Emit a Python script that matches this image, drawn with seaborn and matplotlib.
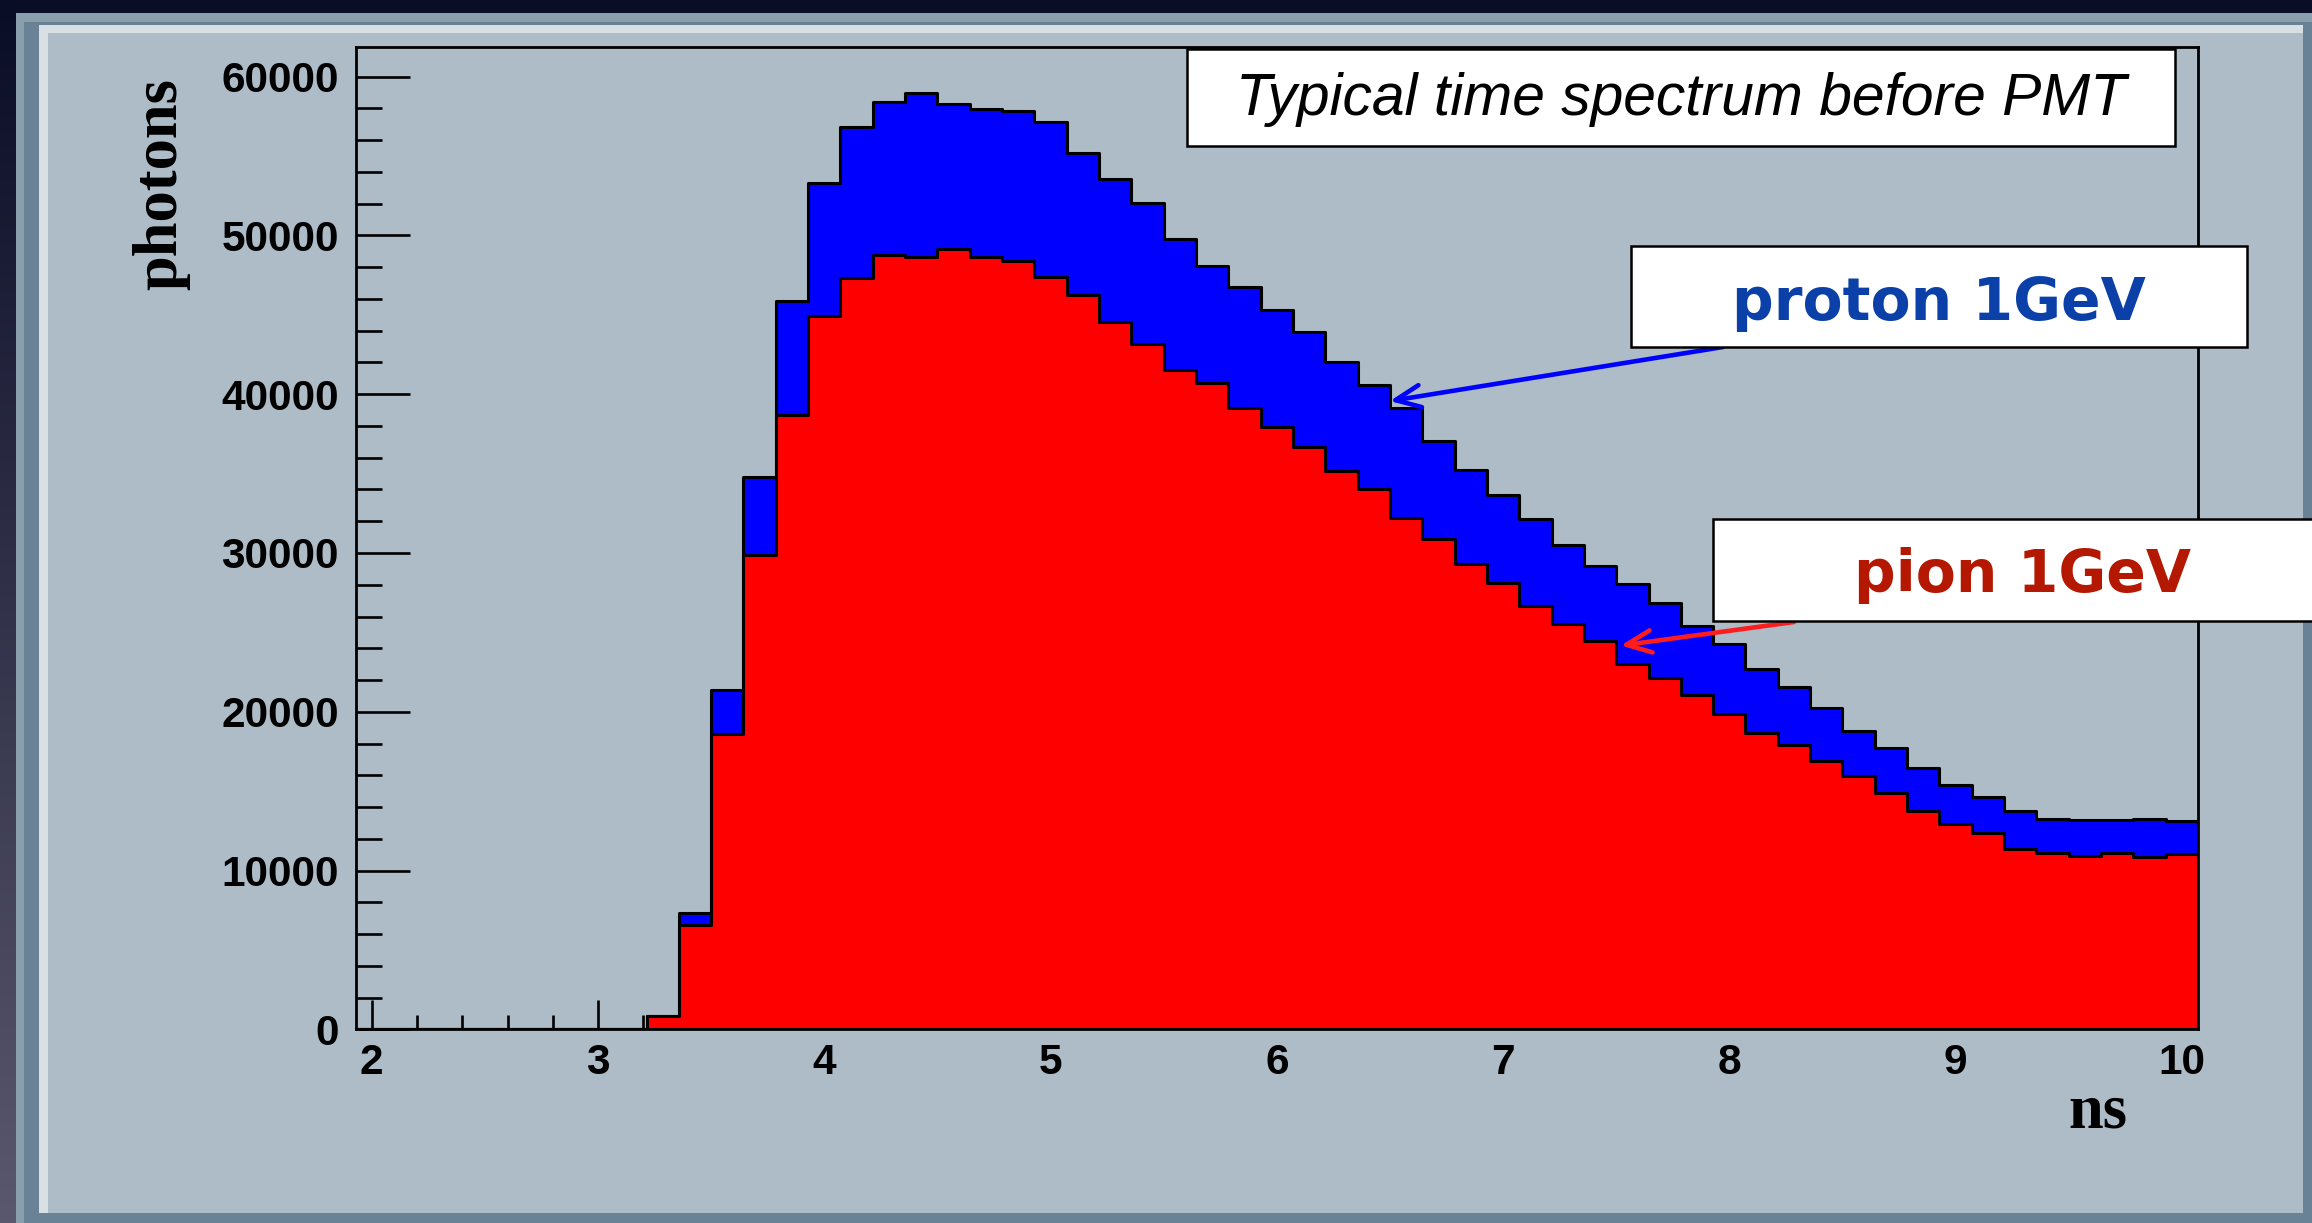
import numpy as np
import pandas as pd
import matplotlib
matplotlib.use("Agg")
import matplotlib.pyplot as plt
import seaborn as sns
from matplotlib.patches import Rectangle
from matplotlib.ticker import FixedLocator

# ---------------- data ----------------
# histogram bins of width 1/7 ns, bin k covers [(k-0.5)/7, (k+0.5)/7], k = 14..70
bin_k = np.arange(14, 71)
proton_counts = [0, 0, 0, 0, 0, 0, 0, 0, 0,
                 850, 7320, 21380, 34800, 45870, 53330, 56820, 58430, 58960, 58290,
                 57970, 57860, 57130, 55220, 53540, 52030, 49760, 48080, 46780, 45310,
                 43940, 42050, 40570, 39150, 37050, 35250, 33670, 32120, 30490, 29170,
                 28050, 26840, 25380, 24250, 22700, 21580, 20230, 18760, 17690, 16430,
                 15390, 14600, 13780, 13220, 13190, 13190, 13240, 13140]
pion_counts = [0, 0, 0, 0, 0, 0, 0, 0, 0,
               850, 6540, 18630, 29860, 38690, 44930, 47300, 48770, 48670, 49150,
               48670, 48420, 47410, 46250, 44570, 43160, 41520, 40720, 39110, 37950,
               36690, 35170, 34010, 32210, 30860, 29310, 28130, 26640, 25510, 24440,
               22980, 22140, 21070, 19830, 18680, 17920, 16870, 15950, 14880, 13760,
               12910, 12350, 11360, 11110, 10940, 11080, 10880, 11030]
x_ticks = [2, 3, 4, 5, 6, 7, 8, 9, 10]
x_tick_labels = ["2", "3", "4", "5", "6", "7", "8", "9", "10"]
y_ticks = [0, 10000, 20000, 30000, 40000, 50000, 60000]
y_tick_labels = ["0", "10000", "20000", "30000", "40000", "50000", "60000"]
title_text = "Typical time spectrum before PMT"
proton_label = "proton 1GeV"
pion_label = "pion 1GeV"
x_label = "ns"
y_label = "photons"
# annotation targets (data coords)
proton_arrow_target = (6.50, 39570)
pion_arrow_target = (7.52, 24170)

centers = bin_k / 7.0
edges = [float(e) for e in np.append(bin_k - 0.5, bin_k[-1] + 0.5) / 7.0]
df = pd.DataFrame({"ns": centers, "proton": proton_counts, "pion": pion_counts})

# ---------------- figure ----------------
W, H, DPI = 2312, 1223, 100
plt.rcParams["font.family"] = ["Liberation Sans", "DejaVu Sans"]
fig = plt.figure(figsize=(W / DPI, H / DPI), dpi=DPI)

# background (pixel coordinates, y downward)
bg = fig.add_axes([0, 0, 1, 1], zorder=0)
bg.set_xlim(0, W)
bg.set_ylim(H, 0)
bg.axis("off")
top_c = np.array([10, 13, 38]) / 255
bot_c = np.array([90, 88, 110]) / 255
t = np.linspace(0, 1, 256)[:, None, None]
grad = (top_c[None, None, :] * (1 - t) + bot_c[None, None, :] * t)
grad = np.repeat(grad, 4, axis=1)
bg.imshow(grad, extent=(0, W, H, 0), aspect="auto", zorder=0)
bg.add_patch(Rectangle((16, 13), W - 16, H - 13, color="#8a9fae", lw=0, zorder=1))
bg.add_patch(Rectangle((24, 22), W - 24, H - 22, color="#6a8295", lw=0, zorder=2))
bg.add_patch(Rectangle((39, 25), 2303 - 39, 1213 - 25, color="#d8e0e3", lw=0, zorder=3))
bg.add_patch(Rectangle((48, 33), 2303 - 48, 1213 - 33, color="#adbcc6", lw=0, zorder=4))

# main axes
ax_left, ax_right, ax_top, ax_bottom = 355.6, 2198.0, 47.0, 1029.3
ax = fig.add_axes([ax_left / W, 1 - ax_bottom / H, (ax_right - ax_left) / W,
                   (ax_bottom - ax_top) / H], zorder=1)
ax.set_facecolor("none")

sns.histplot(data=df, x="ns", weights="proton", bins=edges, element="step",
             fill=True, color="#0000ff", alpha=1, edgecolor="black",
             linewidth=2.2, ax=ax)
sns.histplot(data=df, x="ns", weights="pion", bins=edges, element="step",
             fill=True, color="#ff0000", alpha=1, edgecolor="black",
             linewidth=2.2, ax=ax)

ax.set_xlim(13.5 / 7, 70.5 / 7)
ax.set_ylim(0, 61870)
ax.set_axisbelow(True)

ax.set_xticks(x_ticks, x_tick_labels, fontweight="bold", fontsize=30.5,
              fontfamily="Liberation Sans")
ax.set_yticks(y_ticks, y_tick_labels, fontweight="bold", fontsize=30.5,
              fontfamily="Liberation Sans")
ax.xaxis.set_minor_locator(FixedLocator(np.arange(2.0, 10.01, 0.2)))
ax.yaxis.set_minor_locator(FixedLocator(np.arange(0, 61001, 2000)))
ax.tick_params(axis="both", which="both", direction="in", top=False,
               right=False, width=1.9, color="black")
ax.tick_params(axis="x", which="major", length=21, pad=10)
ax.tick_params(axis="x", which="minor", length=10)
ax.tick_params(axis="y", which="major", length=39, pad=12)
ax.tick_params(axis="y", which="minor", length=19)
for s in ax.spines.values():
    s.set_linewidth(2.0)
    s.set_color("black")

ax.set_xlabel(x_label, fontfamily="Liberation Serif", fontweight="bold",
              fontsize=45, ha="right", va="baseline")
ax.xaxis.set_label_coords((2127 - ax_left) / (ax_right - ax_left),
                          -(1128 - ax_bottom) / (ax_bottom - ax_top))
ax.set_ylabel(y_label, fontfamily="Liberation Serif", fontweight="bold",
              fontsize=45, rotation=90, rotation_mode="anchor",
              ha="right", va="center")
ax.yaxis.set_label_coords((161 - ax_left) / (ax_right - ax_left),
                          (ax_bottom - 78) / (ax_bottom - ax_top))

# overlay for text boxes
ov = fig.add_axes([0, 0, 1, 1], zorder=3)
ov.set_xlim(0, W)
ov.set_ylim(H, 0)
ov.axis("off")
ov.set_facecolor("none")

# arrows (drawn under boxes)
ax.annotate("", xy=proton_arrow_target, xycoords="data",
            xytext=(1723, 347), textcoords=ov.transData,
            arrowprops=dict(arrowstyle="->,head_length=0.9,head_width=0.4",
                            color="#0000ff", lw=3.3, mutation_scale=20,
                            shrinkA=0, shrinkB=0),
            annotation_clip=False)
ax.annotate("", xy=pion_arrow_target, xycoords="data",
            xytext=(1794, 622), textcoords=ov.transData,
            arrowprops=dict(arrowstyle="->,head_length=0.9,head_width=0.4",
                            color="#ff1c1c", lw=3.3, mutation_scale=20,
                            shrinkA=0, shrinkB=0),
            annotation_clip=False)

# title box
ov.add_patch(Rectangle((1187, 49), 2175 - 1187, 146 - 49, facecolor="white",
                       edgecolor="black", lw=1.8, zorder=2))
ov.text(1681, 115, title_text, ha="center", va="baseline", fontsize=42.3,
        fontstyle="italic", fontfamily="Liberation Sans", color="black", zorder=3)

# proton box
ov.add_patch(Rectangle((1630.5, 245.5), 2247 - 1630.5, 347.3 - 245.5,
                       facecolor="white", edgecolor="black", lw=1.8, zorder=2))
ov.text(1939, 320, proton_label, ha="center", va="baseline", fontsize=42,
        fontweight="bold", fontfamily="DejaVu Sans", color="#0a40a8", zorder=3)

# pion box
ov.add_patch(Rectangle((1713, 519), 2340 - 1713, 620.7 - 519,
                       facecolor="white", edgecolor="black", lw=1.8, zorder=2,
                       clip_on=False))
ov.text(2022, 592, pion_label, ha="center", va="baseline", fontsize=42,
        fontweight="bold", fontfamily="DejaVu Sans", color="#b41800", zorder=3)

fig.savefig("out.png", dpi=DPI)
